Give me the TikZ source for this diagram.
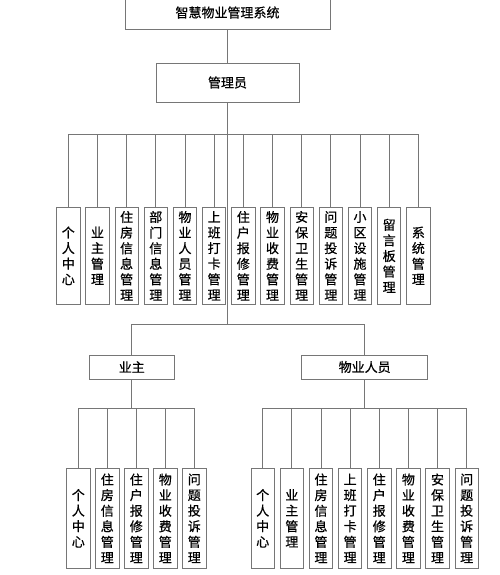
\documentclass[tikz,border=0pt]{standalone}
\usepackage{fontspec}
\setmainfont{Noto Sans CJK SC}[FakeBold=0.6]
\usepackage{tikz}
\usetikzlibrary{
	positioning,
	calc
}
\usepackage{xcolor}
\definecolor{linegray}{RGB}{118,118,118}

\tikzset{
	box/.style={draw=linegray, line width=0.8pt, inner sep=0pt, fill=white, font=\fontsize{13}{15.6}\selectfont},
	vbox/.style={box, minimum width=23.3pt, minimum height=97pt, align=center},
	link/.style={draw=linegray, line width=0.8pt}
}

\begin{document}
\begin{tikzpicture}[x=1pt,y=-1pt]
		
		\useasboundingbox (0,0) rectangle (500,575);
		
		\node[box, minimum width=205pt, minimum height=33pt] (sys) at (227.5,12.5) {智慧物业管理系统};
		\node[box, minimum width=143pt, minimum height=39pt] (admin) at (227.5,82.5) {管理员};
		\draw[link] (sys.south) -- (admin.south |- sys.south) -- (admin.north);
		
		% 管理员
		\coordinate (bus1) at (227.5,134);
		\coordinate (bus2) at (227.5,324.3);
		\draw[link] (admin.south) -- (bus2);
		\foreach \t [count=\i] in {{个\\人\\中\\心},{业\\主\\管\\理},{住\\房\\信\\息\\管\\理},{部\\门\\信\\息\\管\\理},{物\\业\\人\\员\\管\\理},{上\\班\\打\\卡\\管\\理},{住\\户\\报\\修\\管\\理},{物\\业\\收\\费\\管\\理},{安\\保\\卫\\生\\管\\理},{问\\题\\投\\诉\\管\\理},{小\\区\\设\\施\\管\\理},{留\\言\\板\\管\\理},{系\\统\\管\\理}}
		{
			\node[vbox] (a\i) at ({68.3+29.17*(\i-1)},255.8) {\t};
			\draw[link] (bus1) -| (a\i.north);
		}
		
		% 业主 / 物业人员
		\node[box, minimum width=85pt, minimum height=24pt] (owner) at (131.8,367) {业主};
		\node[box, minimum width=126pt, minimum height=24pt] (staff) at (364.7,367) {物业人员};
		\draw[link] (bus2) -| (owner.north);
		\draw[link] (bus2) -| (staff.north);
		
		\foreach \t [count=\i] in {{个\\人\\中\\心},{住\\房\\信\\息\\管\\理},{住\\户\\报\\修\\管\\理},{物\\业\\收\\费\\管\\理},{问\\题\\投\\诉\\管\\理}}
		{
			\node[vbox, minimum height=100pt] (b\i) at ({78.3+29*(\i-1)},518.3) {\t};
			\draw[link] (owner.south) -- ++(0,29.3) -| (b\i.north);
		}
		
		\foreach \t [count=\i] in {{个\\人\\中\\心},{业\\主\\管\\理},{住\\房\\信\\息\\管\\理},{上\\班\\打\\卡\\管\\理},{住\\户\\报\\修\\管\\理},{物\\业\\收\\费\\管\\理},{安\\保\\卫\\生\\管\\理},{问\\题\\投\\诉\\管\\理}}
		{
			\node[vbox, minimum height=100pt] (c\i) at ({262.7+29.14*(\i-1)},518.3) {\t};
			\draw[link] (staff.south) -- ++(0,29.3) -| (c\i.north);
		}
		
	\end{tikzpicture}
\end{document}
